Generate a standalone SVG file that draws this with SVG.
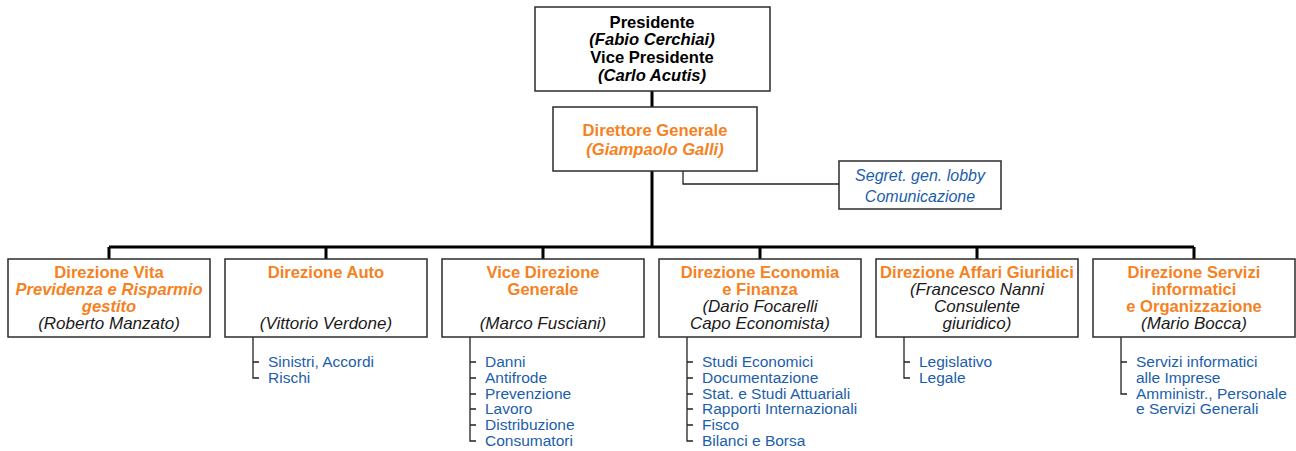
<svg xmlns="http://www.w3.org/2000/svg" width="1296" height="451" viewBox="0 0 1296 451">
<style>
text{font-family:"Liberation Sans",Arial,sans-serif;text-anchor:middle}
.box{fill:#fff;stroke:#2b2b2b;stroke-width:1.5}
.main{stroke:#000;stroke-width:3;fill:none}
.thin{stroke:#222;stroke-width:1.3;fill:none}
.b{font-weight:bold;font-size:16.6px;fill:#000}
.bi{font-weight:bold;font-style:italic;font-size:16.6px;fill:#000}
.o{font-weight:bold;font-size:16.6px;fill:#f5821f}
.oi{font-weight:bold;font-style:italic;font-size:16.6px;fill:#f5821f}
.n{font-style:italic;font-size:17px;fill:#1a1a1a}
.si{font-style:italic;font-size:16px;fill:#1b5eab}
.l{font-size:15.5px;fill:#1b5eab;text-anchor:start}
</style>
<g id="connectors">
<path class="main" d="M652 91V107M652 171V247M109 247H1194M109 247V259M326 247V259M543 247V259M760 247V259M977 247V259M1194 247V259"/>
<path class="thin" d="M683 171V184H839"/>
<path class="thin" d="M253 337V378H259M253 362H259"/>
<path class="thin" d="M470 337V441H476M470 362H476M470 378H476M470 394H476M470 409H476M470 425H476"/>
<path class="thin" d="M687 337V441H693M687 362H693M687 378H693M687 394H693M687 409H693M687 425H693"/>
<path class="thin" d="M904 337V378H910M904 362H910"/>
<path class="thin" d="M1121 337V394H1127M1121 362H1127"/>
</g>
<g id="presidente">
<rect class="box" x="535" y="7" width="235" height="84"/>
<text class="b" x="652" y="28">Presidente</text>
<text class="bi" x="652" y="45">(Fabio Cerchiai)</text>
<text class="b" x="652" y="63">Vice Presidente</text>
<text class="bi" x="652" y="81">(Carlo Acutis)</text>
</g>
<g id="direttore">
<rect class="box" x="553" y="107" width="204" height="64"/>
<text class="o" x="655" y="136">Direttore Generale</text>
<text class="oi" x="655" y="155">(Giampaolo Galli)</text>
</g>
<g id="segreteria">
<rect class="box" x="839" y="161" width="162" height="48"/>
<text class="si" x="920" y="181">Segret. gen. lobby</text>
<text class="si" x="920" y="202">Comunicazione</text>
</g>
<g id="vita">
<rect class="box" x="8" y="259" width="202" height="78"/>
<text class="o" x="109" y="278">Direzione Vita</text>
<text class="oi" x="109" y="295">Previdenza e Risparmio</text>
<text class="oi" x="109" y="312">gestito</text>
<text class="n" x="109" y="329">(Roberto Manzato)</text>
</g>
<g id="auto">
<rect class="box" x="225" y="259" width="202" height="78"/>
<text class="o" x="326" y="278">Direzione Auto</text>
<text class="n" x="326" y="329">(Vittorio Verdone)</text>
<text class="l" x="268" y="367">Sinistri, Accordi</text>
<text class="l" x="268" y="383">Rischi</text>
</g>
<g id="vicedirezione">
<rect class="box" x="442" y="259" width="202" height="78"/>
<text class="o" x="543" y="278">Vice Direzione</text>
<text class="o" x="543" y="295">Generale</text>
<text class="n" x="543" y="329">(Marco Fusciani)</text>
<text class="l" x="485" y="367">Danni</text>
<text class="l" x="485" y="383">Antifrode</text>
<text class="l" x="485" y="399">Prevenzione</text>
<text class="l" x="485" y="414">Lavoro</text>
<text class="l" x="485" y="430">Distribuzione</text>
<text class="l" x="485" y="446">Consumatori</text>
</g>
<g id="economia">
<rect class="box" x="659" y="259" width="202" height="78"/>
<text class="o" x="760" y="278">Direzione Economia</text>
<text class="o" x="760" y="295">e Finanza</text>
<text class="n" x="760" y="312">(Dario Focarelli</text>
<text class="n" x="760" y="329">Capo Economista)</text>
<text class="l" x="702" y="367">Studi Economici</text>
<text class="l" x="702" y="383">Documentazione</text>
<text class="l" x="702" y="399">Stat. e Studi Attuariali</text>
<text class="l" x="702" y="414">Rapporti Internazionali</text>
<text class="l" x="702" y="430">Fisco</text>
<text class="l" x="702" y="446">Bilanci e Borsa</text>
</g>
<g id="affari">
<rect class="box" x="876" y="259" width="202" height="78"/>
<text class="o" x="977" y="278">Direzione Affari Giuridici</text>
<text class="n" x="977" y="295">(Francesco Nanni</text>
<text class="n" x="977" y="312">Consulente</text>
<text class="n" x="977" y="329">giuridico)</text>
<text class="l" x="919" y="367">Legislativo</text>
<text class="l" x="919" y="383">Legale</text>
</g>
<g id="servizi">
<rect class="box" x="1093" y="259" width="202" height="78"/>
<text class="o" x="1194" y="278">Direzione Servizi</text>
<text class="o" x="1194" y="295">informatici</text>
<text class="o" x="1194" y="312">e Organizzazione</text>
<text class="n" x="1194" y="329">(Mario Bocca)</text>
<text class="l" x="1136" y="367">Servizi informatici</text>
<text class="l" x="1136" y="383">alle Imprese</text>
<text class="l" x="1136" y="399">Amministr., Personale</text>
<text class="l" x="1136" y="414">e Servizi Generali</text>
</g>
</svg>
